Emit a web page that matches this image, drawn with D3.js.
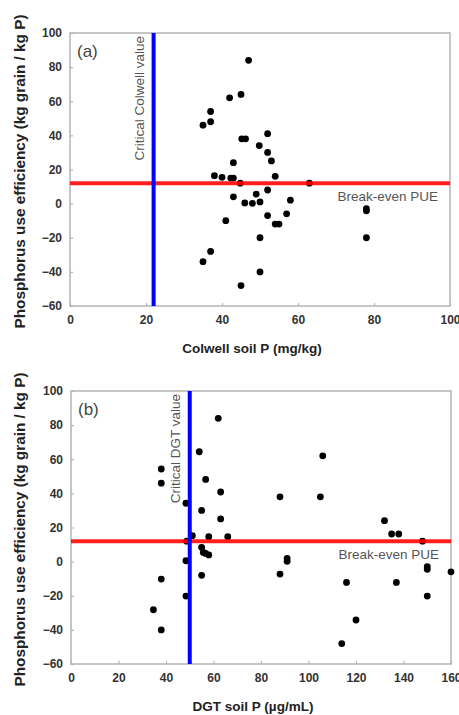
<!DOCTYPE html>
<html>
<head>
<meta charset="utf-8">
<script src="https://cdn.jsdelivr.net/npm/d3@7"></script>
<style>
  html, body { margin: 0; padding: 0; background: #fff; }
  svg { display: block; font-family: "Liberation Sans", Arial, sans-serif; }
</style>
</head>
<body>
<svg id="chart" width="459" height="715"></svg>
<script>
// Panel (a): Colwell soil P (mg/kg) vs phosphorus use efficiency
const colwellP = [47, 42, 45, 37, 37, 35, 45.2, 46.2, 49.8, 52, 52, 53, 43, 54, 38, 40, 42.3, 43, 44.8, 63,
                  52, 49, 43, 50, 48, 46, 58, 78, 78, 52, 57, 54, 55, 41, 50, 78, 37, 35, 45, 50];
const colwellPUE = [84, 62, 64, 54, 48, 46, 38, 38, 34, 41, 30, 25, 24, 16, 16.4, 15.4, 15, 15, 12, 12,
                    8, 5.6, 4, 1, 0.2, 0.4, 2, -3, -4.2, -7, -6, -12, -12, -10, -20, -20, -28, -34, -48, -40];

// Panel (b): DGT soil P (µg/mL) vs phosphorus use efficiency
const dgtP = [62, 54, 38, 38, 56.7, 63, 48.4, 55, 63, 51.1, 58, 66, 48.7, 55, 55.7, 56.7, 58, 48.4, 55, 38,
              48.4, 34.7, 38, 106, 88, 105, 132, 135, 138, 148, 91, 91, 88, 116, 137, 150, 150, 160, 150, 120, 114];
const dgtPUE = [84, 64.4, 54.3, 46, 48.2, 40.8, 34.2, 30, 25, 15.2, 14.6, 14.6, 12, 8.4, 5.4, 4.8, 3.9, 0.5, -8, -10.2,
                -20.2, -28.2, -40, 62, 38, 38, 24, 16.2, 16.2, 12, 1.9, 0.2, -7.3, -12.2, -12.2, -3, -4.5, -6, -20.2, -34.2, -48];

// Axis ticks
const pueTicks = [-60, -40, -20, 0, 20, 40, 60, 80, 100];
const colwellTicks = [0, 20, 40, 60, 80, 100];
const dgtTicks = [0, 20, 40, 60, 80, 100, 120, 140, 160];

// Reference lines
const breakEvenPUE = 12;
const criticalColwell = 22;
const criticalDGT = 50;

const yTitle = "Phosphorus use efficiency (kg grain / kg P)";

const svg = d3.select("#chart");

function drawPanel(opt) {
  const { left, right, top, bottom, xDomain, xTicks, xs, ys, critical,
          panelLabel, criticalLabel, xTitle } = opt;
  const g = svg.append("g");
  const x = d3.scaleLinear().domain(xDomain).range([left, right]);
  const y = d3.scaleLinear().domain([-60, 100]).range([bottom, top]);

  // frame
  g.append("rect")
    .attr("x", left).attr("y", top)
    .attr("width", right - left).attr("height", bottom - top)
    .attr("fill", "none").attr("stroke", "#b4b4b4").attr("stroke-width", 1.5);

  // inward ticks + labels
  const xAxis = d3.axisBottom(x).tickValues(xTicks).tickSize(-3).tickPadding(9)
    .tickFormat(d3.format("d"));
  const yAxis = d3.axisLeft(y).tickValues(pueTicks).tickSize(-3).tickPadding(8)
    .tickFormat(d3.format("d"));

  const gx = g.append("g").attr("transform", `translate(0,${bottom})`).call(xAxis);
  const gy = g.append("g").attr("transform", `translate(${left},0)`).call(yAxis);
  [gx, gy].forEach(a => {
    a.select(".domain").remove();
    a.selectAll(".tick line").attr("stroke", "#b4b4b4").attr("stroke-width", 1.2);
    a.selectAll(".tick text")
      .attr("fill", "#333")
      .style("font-size", "12px")
      .style("font-weight", "bold")
      .style("font-family", "'Liberation Sans', Arial, sans-serif");
  });

  // data points
  g.append("g").selectAll("circle")
    .data(xs.map((v, i) => [v, ys[i]]))
    .join("circle")
    .attr("cx", d => x(d[0]))
    .attr("cy", d => y(d[1]))
    .attr("r", 3.4)
    .attr("fill", "#000");

  // break-even PUE line
  g.append("line")
    .attr("x1", x(xDomain[0])).attr("x2", x(xDomain[1]))
    .attr("y1", y(breakEvenPUE)).attr("y2", y(breakEvenPUE))
    .attr("stroke", "#ff0000").attr("stroke-width", 4).attr("stroke-opacity", 0.88);

  // critical soil P line
  g.append("line")
    .attr("x1", x(critical)).attr("x2", x(critical))
    .attr("y1", y(100)).attr("y2", y(-60))
    .attr("stroke", "#0000ff").attr("stroke-width", 4);

  // panel label
  g.append("text")
    .attr("x", left + 7).attr("y", top + 24)
    .attr("fill", "#444")
    .style("font-size", "17px")
    .text(panelLabel);

  // critical value label (vertical)
  g.append("text")
    .attr("transform", `translate(${x(critical) - 9.5},${top + 3}) rotate(-90)`)
    .attr("text-anchor", "end")
    .attr("fill", "#555")
    .style("font-size", "13.5px")
    .text(criticalLabel);

  // break-even label
  g.append("text")
    .attr("x", right - 12).attr("y", y(breakEvenPUE) + 17.5)
    .attr("text-anchor", "end")
    .attr("fill", "#555")
    .style("font-size", "13.5px")
    .text("Break-even PUE");

  // x axis title
  g.append("text")
    .attr("x", (left + right) / 2 - 8).attr("y", bottom + 47)
    .attr("text-anchor", "middle")
    .attr("fill", "#222")
    .style("font-size", "13.5px")
    .style("font-weight", "bold")
    .text(xTitle);

  // y axis title
  g.append("text")
    .attr("transform", `translate(25,${(top + bottom) / 2 + 2}) rotate(-90)`)
    .attr("text-anchor", "middle")
    .attr("fill", "#222")
    .style("font-size", "14px")
    .style("font-weight", "bold")
    .attr("textLength", 314)
    .attr("lengthAdjust", "spacingAndGlyphs")
    .text(yTitle);
}

drawPanel({
  left: 70, right: 450, top: 33, bottom: 306,
  xDomain: [0, 100], xTicks: colwellTicks,
  xs: colwellP, ys: colwellPUE, critical: criticalColwell,
  panelLabel: "(a)", criticalLabel: "Critical Colwell value",
  xTitle: "Colwell soil P (mg/kg)"
});

drawPanel({
  left: 71, right: 451, top: 391, bottom: 664,
  xDomain: [0, 160], xTicks: dgtTicks,
  xs: dgtP, ys: dgtPUE, critical: criticalDGT,
  panelLabel: "(b)", criticalLabel: "Critical DGT value",
  xTitle: "DGT soil P (µg/mL)"
});
</script>
</body>
</html>
